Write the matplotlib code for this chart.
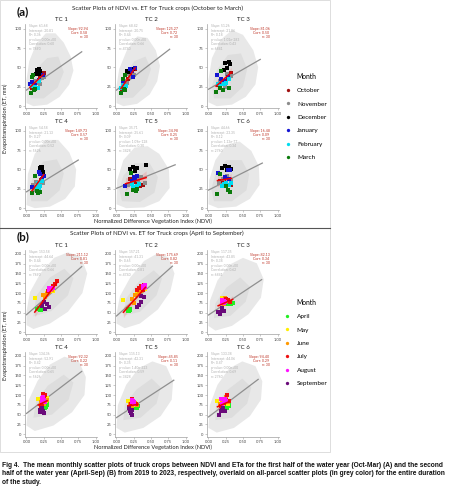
import matplotlib
matplotlib.use('Agg')
import matplotlib.pyplot as plt
from matplotlib.lines import Line2D
from matplotlib.patches import Polygon, Rectangle
import numpy as np

# ── data ─────────────────────────────────────────────────────────────────────

tc_names = ['TC 1', 'TC 2', 'TC 3', 'TC 4', 'TC 5', 'TC 6']

months_a = ['October', 'November', 'December', 'January', 'February', 'March']
colors_a = ['#a01010', '#8c8c8c', '#000000', '#1414d2', '#00dcf0', '#0b7a0b']
months_b = ['April', 'May', 'June', 'July', 'August', 'September']
colors_b = ['#22ee22', '#ffee00', '#ff9900', '#ee1111', '#ff10ff', '#6a0a7a']

# monthly means (NDVI, ET) per panel, 5 years each
october = [[(0.08, 24), (0.14, 31), (0.20, 38), (0.25, 43), (0.11, 27)],
           [(0.08, 22), (0.12, 28), (0.17, 35), (0.22, 42), (0.27, 48)],
           [(0.14, 27), (0.22, 33), (0.28, 36), (0.33, 43), (0.25, 31)],
           [(0.08, 20), (0.13, 27), (0.17, 31), (0.21, 36), (0.24, 41)],
           [(0.34, 29), (0.39, 30), (0.20, 37), (0.26, 34), (0.31, 33)],
           [(0.17, 35), (0.22, 36), (0.30, 37), (0.33, 30), (0.26, 33)]]
november = [[(0.17, 30), (0.22, 36), (0.12, 33), (0.25, 38), (0.19, 28)],
            [(0.15, 30), (0.20, 38), (0.13, 33), (0.25, 40), (0.18, 41)],
            [(0.20, 30), (0.27, 42), (0.32, 39), (0.16, 33), (0.24, 25)],
            [(0.10, 30), (0.14, 34), (0.19, 30), (0.24, 33), (0.12, 24)],
            [(0.31, 36), (0.35, 40), (0.16, 30), (0.42, 33), (0.28, 38)],
            [(0.15, 33), (0.21, 38), (0.27, 42), (0.33, 36), (0.19, 30)]]
december = [[(0.15, 47), (0.18, 48), (0.20, 46), (0.14, 41), (0.19, 42)],
            [(0.15, 45), (0.21, 47), (0.18, 44), (0.24, 48), (0.12, 40)],
            [(0.24, 56), (0.30, 57), (0.27, 49), (0.31, 54), (0.22, 47)],
            [(0.19, 52), (0.21, 53), (0.23, 53), (0.22, 49), (0.24, 47)],
            [(0.20, 50), (0.24, 53), (0.29, 52), (0.43, 56), (0.27, 48)],
            [(0.19, 52), (0.24, 55), (0.29, 53), (0.27, 49), (0.32, 50)]]
january = [[(0.05, 28), (0.24, 40), (0.18, 34), (0.08, 31), (0.13, 27)],
           [(0.19, 48), (0.27, 49), (0.24, 37), (0.10, 30), (0.22, 45)],
           [(0.13, 40), (0.18, 35), (0.28, 37), (0.23, 32), (0.15, 28)],
           [(0.18, 47), (0.23, 38), (0.08, 27), (0.20, 44), (0.25, 41)],
           [(0.25, 40), (0.27, 37), (0.22, 35), (0.30, 42), (0.13, 29)],
           [(0.28, 49), (0.31, 49), (0.14, 46), (0.24, 40), (0.30, 38)]]
february = [[(0.12, 25), (0.16, 24), (0.18, 32), (0.08, 26), (0.11, 22)],
            [(0.07, 24), (0.10, 27), (0.12, 21), (0.09, 23), (0.14, 26)],
            [(0.14, 28), (0.22, 28), (0.30, 35), (0.17, 26), (0.26, 30)],
            [(0.17, 32), (0.20, 28), (0.22, 35), (0.15, 27), (0.18, 25)],
            [(0.24, 27), (0.29, 29), (0.33, 31), (0.27, 25), (0.22, 31)],
            [(0.23, 31), (0.29, 30), (0.32, 32), (0.26, 33), (0.20, 28)]]
march = [[(0.10, 40), (0.08, 38), (0.06, 17), (0.11, 21), (0.13, 22)],
         [(0.12, 40), (0.065, 17), (0.11, 22), (0.13, 21), (0.10, 35)],
         [(0.18, 46), (0.11, 18), (0.17, 24), (0.21, 21), (0.29, 23)],
         [(0.12, 42), (0.08, 19), (0.17, 20), (0.15, 22), (0.19, 21)],
         [(0.21, 45), (0.15, 18), (0.24, 23), (0.28, 22), (0.30, 25)],
         [(0.13, 18), (0.25, 28), (0.28, 23), (0.31, 21), (0.17, 44)]]

april = [[(0.17, 59), (0.19, 57), (0.15, 58), (0.21, 56), (0.18, 61)],
         [(0.17, 60), (0.19, 56), (0.18, 53), (0.20, 58), (0.16, 55)],
         [(0.30, 73), (0.35, 75), (0.27, 71), (0.33, 72), (0.25, 74)],
         [(0.29, 74), (0.28, 70), (0.27, 68), (0.30, 77), (0.25, 72)],
         [(0.28, 70), (0.30, 68), (0.27, 72), (0.26, 66), (0.31, 71)],
         [(0.26, 73), (0.23, 70), (0.29, 77), (0.27, 68), (0.30, 72)]]
may = [[(0.12, 87), (0.33, 104), (0.36, 110), (0.30, 100), (0.38, 106)],
       [(0.10, 82), (0.38, 113), (0.34, 105), (0.30, 100), (0.41, 110)],
       [(0.19, 87), (0.24, 80), (0.21, 84), (0.22, 77), (0.25, 86)],
       [(0.17, 89), (0.28, 85), (0.26, 93), (0.22, 80), (0.30, 92)],
       [(0.17, 86), (0.22, 80), (0.25, 75), (0.20, 72), (0.27, 78)],
       [(0.13, 86), (0.24, 82), (0.28, 78), (0.21, 75), (0.26, 90)]]
june = [[(0.24, 94), (0.29, 98), (0.33, 103), (0.37, 107), (0.27, 90)],
        [(0.27, 94), (0.22, 85), (0.32, 100), (0.36, 106), (0.25, 75)],
        [(0.24, 88), (0.26, 85), (0.20, 80), (0.22, 73), (0.28, 79)],
        [(0.27, 100), (0.24, 96), (0.29, 88), (0.21, 83), (0.25, 78)],
        [(0.24, 76), (0.22, 73), (0.27, 80), (0.20, 77), (0.29, 75)],
        [(0.23, 80), (0.26, 94), (0.20, 85), (0.28, 82), (0.16, 76)]]
july = [[(0.44, 130), (0.42, 124), (0.38, 118), (0.35, 112), (0.31, 105)],
        [(0.33, 113), (0.36, 118), (0.40, 121), (0.30, 108), (0.38, 109)],
        [(0.23, 82), (0.26, 84), (0.21, 76), (0.28, 82), (0.31, 77)],
        [(0.24, 102), (0.27, 99), (0.23, 78), (0.26, 90), (0.21, 73)],
        [(0.23, 91), (0.25, 82), (0.21, 76), (0.28, 78), (0.18, 70)],
        [(0.27, 100), (0.25, 88), (0.29, 86), (0.22, 80), (0.18, 72)]]
august = [[(0.33, 113), (0.34, 107), (0.36, 110), (0.32, 109), (0.38, 114)],
          [(0.39, 118), (0.41, 120), (0.42, 116), (0.38, 114), (0.40, 112)],
          [(0.20, 82), (0.22, 79), (0.24, 78), (0.19, 76), (0.23, 75)],
          [(0.22, 92), (0.25, 88), (0.23, 85), (0.27, 82), (0.24, 94)],
          [(0.24, 85), (0.26, 83), (0.22, 82), (0.25, 78), (0.23, 88)],
          [(0.18, 90), (0.24, 90), (0.22, 84), (0.26, 85), (0.20, 78)]]
september = [[(0.25, 77), (0.29, 72), (0.32, 65), (0.27, 60), (0.22, 66)],
             [(0.36, 92), (0.40, 91), (0.36, 77), (0.33, 70), (0.30, 65)],
             [(0.14, 52), (0.19, 56), (0.23, 54), (0.17, 47), (0.20, 62)],
             [(0.19, 56), (0.24, 59), (0.22, 66), (0.25, 55), (0.20, 63)],
             [(0.18, 66), (0.21, 55), (0.22, 50), (0.19, 60), (0.23, 62)],
             [(0.18, 58), (0.24, 58), (0.15, 50), (0.21, 67), (0.20, 62)]]

# all-parcel cloud outlines (outer extent and dense core), NDVI/ET
cloud_outer_a = [
    [(0.00, 4), (0.10, 0), (0.30, 2), (0.48, 12), (0.62, 28), (0.68, 46), (0.64, 64),
     (0.54, 82), (0.42, 94), (0.28, 94), (0.14, 80), (0.04, 58), (0.00, 34)],
    [(0.00, 4), (0.10, 0), (0.30, 3), (0.48, 15), (0.59, 32), (0.63, 52), (0.57, 72),
     (0.45, 88), (0.30, 90), (0.15, 72), (0.04, 48), (0.00, 26)],
    [(0.00, 5), (0.12, 0), (0.34, 2), (0.54, 12), (0.68, 28), (0.72, 50), (0.65, 72),
     (0.50, 92), (0.34, 98), (0.18, 86), (0.05, 62), (0.00, 34)],
    [(0.00, 4), (0.12, 0), (0.34, 2), (0.56, 12), (0.70, 28), (0.72, 50), (0.62, 72),
     (0.46, 88), (0.28, 88), (0.12, 70), (0.02, 44)],
    [(0.00, 5), (0.14, 0), (0.40, 1), (0.62, 9), (0.77, 26), (0.76, 50), (0.62, 70),
     (0.45, 80), (0.26, 78), (0.10, 62), (0.01, 36)],
    [(0.00, 5), (0.14, 0), (0.40, 2), (0.60, 12), (0.74, 30), (0.73, 54), (0.62, 74),
     (0.45, 86), (0.26, 82), (0.10, 62), (0.01, 36)],
]
cloud_core_a = [
    [(0.06, 10), (0.25, 10), (0.45, 24), (0.54, 44), (0.46, 64), (0.30, 62), (0.14, 48), (0.04, 26)],
    [(0.06, 10), (0.24, 11), (0.42, 27), (0.50, 48), (0.42, 64), (0.26, 58), (0.12, 40), (0.04, 24)],
    [(0.08, 10), (0.32, 10), (0.50, 25), (0.56, 48), (0.47, 68), (0.28, 66), (0.12, 46), (0.05, 26)],
    [(0.07, 9), (0.30, 9), (0.48, 23), (0.54, 45), (0.44, 63), (0.24, 60), (0.10, 42), (0.04, 24)],
    [(0.08, 9), (0.34, 8), (0.55, 20), (0.60, 40), (0.48, 58), (0.26, 58), (0.10, 42), (0.04, 24)],
    [(0.08, 9), (0.34, 9), (0.55, 23), (0.59, 44), (0.48, 62), (0.26, 62), (0.10, 44), (0.04, 24)],
]
cloud_outer_b = [
    [(0.00, 18), (0.10, 8), (0.34, 22), (0.60, 52), (0.81, 100), (0.88, 150), (0.79, 192),
     (0.60, 204), (0.40, 190), (0.20, 150), (0.05, 102), (0.00, 52)],
    [(0.00, 22), (0.12, 10), (0.34, 22), (0.60, 58), (0.78, 104), (0.84, 150), (0.75, 192),
     (0.58, 200), (0.40, 182), (0.20, 140), (0.05, 92), (0.00, 46)],
    [(0.00, 16), (0.10, 4), (0.34, 16), (0.58, 46), (0.76, 88), (0.80, 135), (0.70, 176),
     (0.50, 190), (0.30, 172), (0.13, 132), (0.02, 80)],
    [(0.00, 22), (0.12, 8), (0.39, 22), (0.66, 56), (0.84, 100), (0.86, 146), (0.76, 186),
     (0.55, 198), (0.34, 178), (0.16, 136), (0.03, 86)],
    [(0.00, 16), (0.12, 4), (0.39, 16), (0.64, 46), (0.80, 88), (0.82, 135), (0.72, 174),
     (0.52, 186), (0.32, 168), (0.14, 126), (0.02, 74)],
    [(0.00, 16), (0.12, 4), (0.37, 16), (0.60, 46), (0.76, 88), (0.78, 135), (0.68, 174),
     (0.49, 186), (0.30, 168), (0.13, 126), (0.02, 74)],
]
cloud_core_b = [
    [(0.10, 40), (0.36, 54), (0.60, 94), (0.68, 138), (0.55, 162), (0.34, 140), (0.14, 92)],
    [(0.10, 42), (0.34, 52), (0.58, 94), (0.66, 138), (0.54, 158), (0.33, 130), (0.14, 86)],
    [(0.08, 36), (0.32, 42), (0.54, 78), (0.60, 116), (0.46, 140), (0.26, 114), (0.10, 74)],
    [(0.10, 42), (0.37, 50), (0.61, 88), (0.68, 132), (0.54, 152), (0.31, 124), (0.14, 84)],
    [(0.10, 36), (0.35, 42), (0.58, 78), (0.64, 120), (0.51, 142), (0.29, 114), (0.12, 76)],
    [(0.10, 36), (0.34, 42), (0.56, 78), (0.62, 120), (0.49, 142), (0.28, 114), (0.11, 76)],
]

# all-parcel regression stats
gray_slope_a = [61.68, 68.42, 51.26, 54.58, 35.71, 44.66]
gray_int_a = [20.81, 20.75, 21.86, 21.13, 25.61, 23.35]
gray_r2_a = [0.36, 0.44, 0.18, 0.27, 0.09, 0.12]
gray_p_a = ['0.00e+00', '0.00e+00', '1.02e-283', '0.00e+00', '1.09e-128', '1.13e-77']
gray_corr_a = [0.60, 0.66, 0.43, 0.52, 0.30, 0.34]
gray_xmax_a = [0.80, 0.77, 0.75, 0.75, 0.85, 0.78]

gray_slope_b = [153.58, 157.21, 117.35, 134.36, 115.13, 133.38]
gray_int_b = [44.64, 41.31, 43.85, 52.91, 42.31, 44.06]
gray_r2_b = [0.44, 0.65, 0.38, 0.42, 0.35, 0.47]
gray_p_b = ['0.00e+00', '0.00e+00', '0.00e+00', '0.00e+00', '1.40e-323', '0.00e+00']
gray_corr_b = [0.66, 0.81, 0.62, 0.65, 0.59, 0.69]
gray_xmax_b = [0.80, 0.81, 0.77, 0.80, 0.83, 0.72]

gray_n = [7690, 4740, 6841, 5626, 3428, 2760]

# monthly-mean regression stats
red_slope_a = [92.94, 125.27, 81.06, 149.73, 34.98, 16.48]
red_corr_a = [0.58, 0.72, 0.50, 0.57, 0.25, 0.09]
red_slope_b = [211.12, 175.69, 82.13, 92.32, 45.85, 94.40]
red_corr_b = [0.81, 0.82, 0.34, 0.22, 0.11, 0.29]

caption_lines = [
    'Fig 4.  The mean monthly scatter plots of truck crops between NDVI and ETa for the first half of the water year (Oct-Mar) (A) and the second',
    'half of the water year (April-Sep) (B) from 2019 to 2023, respectively, overlaid on all-parcel scatter plots (in grey color) for the entire duration',
    'of the study.',
]

# ── layout helpers ──────────────────────────────────────────────────────────

W, H = 474, 486
FONT = 'Lato'
plt.rcParams['font.family'] = [FONT, 'DejaVu Sans']


def fx(px):
    return px / W


def fy(py):
    return 1 - py / H


def add_ax(fig, left, top, width, height):
    return fig.add_axes([fx(left), fy(top + height), width / W, height / H])


def fit_band(x, y, xs):
    n = len(x)
    b, a = np.polyfit(x, y, 1)
    yhat = a + b * xs
    resid = y - (a + b * x)
    s = np.sqrt(np.sum(resid ** 2) / (n - 2))
    se = s * np.sqrt(1 / n + (xs - x.mean()) ** 2 / np.sum((x - x.mean()) ** 2))
    t = 2.048
    return yhat, yhat - t * se, yhat + t * se


def draw_panel(ax, k, months, colors, outer, core, g_slope, g_int, g_r2, g_p, g_corr,
               g_xmax, r_slope, r_corr, ylim, yticks):
    ax.add_patch(Polygon(outer, closed=True, facecolor='#e8e8e8', edgecolor='none',
                         zorder=1))
    ax.add_patch(Polygon(core, closed=True, facecolor='#dddddd', edgecolor='none',
                         zorder=1.1))

    xs = np.linspace(0, g_xmax[k], 20)
    ax.plot(xs, g_int[k] + g_slope[k] * xs, color='#8f8f8f', lw=0.9, zorder=2)

    px, py = [], []
    for m, col in zip(months, colors):
        pts = np.array(m[k], dtype=float)
        px.extend(pts[:, 0])
        py.extend(pts[:, 1])
        ax.scatter(pts[:, 0], pts[:, 1], s=7, marker='s', color=col, lw=0, zorder=3)
    px, py = np.array(px), np.array(py)
    xr = np.linspace(px.min(), px.max(), 40)
    yhat, lo, hi = fit_band(px, py, xr)
    ax.fill_between(xr, lo, hi, color='#ff6060', alpha=0.22, lw=0, zorder=2.5)
    ax.plot(xr, yhat, color='#ee0000', lw=1.1, zorder=4)

    ax.text(0.05, 0.995, f'Slope: {g_slope[k]:.2f}\nIntercept: {g_int[k]:.2f}\n'
            f'R²: {g_r2[k]:.2f}\np-value: {g_p[k]}\nCorrelation: {g_corr[k]:.2f}\n'
            f'n: {gray_n[k]}', transform=ax.transAxes, ha='left', va='top',
            fontsize=2.4, color='#b0b0b0', linespacing=1.15, zorder=5)
    ax.text(0.87, 0.97, f'Slope: {r_slope[k]:.2f}\nCorr: {r_corr[k]:.2f}\nn: 30',
            transform=ax.transAxes, ha='right', va='top', fontsize=2.6,
            color='#c0392b', linespacing=1.15, zorder=5)

    ax.set_xlim(-0.02, 1.02)
    ax.set_ylim(*ylim)
    ax.set_xticks([0, 0.25, 0.5, 0.75, 1.0])
    ax.set_xticklabels(['0.00', '0.25', '0.50', '0.75', '1.00'])
    ax.set_yticks(yticks)
    ax.set_title(tc_names[k], fontsize=4.4, pad=2, color='#222222')
    for side in ['top', 'right']:
        ax.spines[side].set_visible(False)
    for side in ['left', 'bottom']:
        ax.spines[side].set_color('#a0a0a0')
        ax.spines[side].set_linewidth(0.5)
    ax.tick_params(length=1.5, width=0.4, color='#a0a0a0', labelsize=2.9,
                   labelcolor='#444444', pad=1)


# ── figure ──────────────────────────────────────────────────────────────────

fig = plt.figure(figsize=(W / 100, H / 100), dpi=100)
fig.patch.set_facecolor('white')

col_left = [25.1, 115.1, 207.1]
ax_w = 71.8
ax_h = 84.5
rows_a = [24.0, 126.0]
rows_b = [250.0, 352.0]

months_data_a = [october, november, december, january, february, march]
months_data_b = [april, may, june, july, august, september]

for k in range(6):
    ax = add_ax(fig, col_left[k % 3], rows_a[k // 3], ax_w, ax_h)
    draw_panel(ax, k, months_data_a, colors_a, cloud_outer_a[k], cloud_core_a[k],
               gray_slope_a, gray_int_a, gray_r2_a, gray_p_a, gray_corr_a, gray_xmax_a,
               red_slope_a, red_corr_a, (-3, 106), [0, 25, 50, 75, 100])
    ax = add_ax(fig, col_left[k % 3], rows_b[k // 3], ax_w, ax_h)
    draw_panel(ax, k, months_data_b, colors_b, cloud_outer_b[k], cloud_core_b[k],
               gray_slope_b, gray_int_b, gray_r2_b, gray_p_b, gray_corr_b, gray_xmax_b,
               red_slope_b, red_corr_b, (-6, 210), list(range(0, 201, 25)))

# panel labels and titles
for tag, ty, sub in [('(a)', 12, 'October to March'), ('(b)', 237, 'April to September')]:
    fig.text(fx(17), fy(ty), tag, fontsize=8.5, weight='bold', ha='left', va='center',
             color='#111111')
    fig.text(fx(157), fy(ty - 4), f'Scatter Plots of NDVI vs. ET for Truck crops ({sub})',
             fontsize=4.4, ha='center', va='center', color='#222222')

for ly, ycen in [(221.5, 118), (447, 345)]:
    fig.text(fx(153), fy(ly), 'Normalized Difference Vegetation Index (NDVI)',
             fontsize=4.1, ha='center', va='center', color='#222222')
    fig.text(fx(5), fy(ycen), 'Evapotranspiration (ET, mm)', fontsize=4.1,
             rotation=90, ha='center', va='center', color='#222222')

# legends
for months, colors, ycen in [(months_a, colors_a, 116.5), (months_b, colors_b, 342.5)]:
    handles = [Line2D([], [], ls='', marker='o', markersize=2.4, color=c, mew=0)
               for c in colors]
    fig.legend(handles, months, title='Month', loc='center',
               bbox_to_anchor=(fx(306), fy(ycen)), frameon=False,
               prop={'family': FONT, 'size': 4.6},
               title_fontproperties={'family': FONT, 'size': 4.9},
               labelspacing=1.25, handlelength=0.8, handletextpad=1.1)

# frame and separator
fig.add_artist(Rectangle((0, fy(452)), fx(330), 452 / H, transform=fig.transFigure,
                         fill=False, edgecolor='#d8d8d8', lw=0.6))
fig.add_artist(Line2D([0, fx(330)], [fy(228), fy(228)], transform=fig.transFigure,
                      color='#555555', lw=0.8))

# caption
for i, line in enumerate(caption_lines):
    fig.text(fx(2), fy(465 + 8.7 * i), line, fontsize=4.75, weight='bold',
             family=['Liberation Sans', 'DejaVu Sans'], ha='left', va='center',
             color='#111111')

fig.savefig('out.png', dpi=100)
